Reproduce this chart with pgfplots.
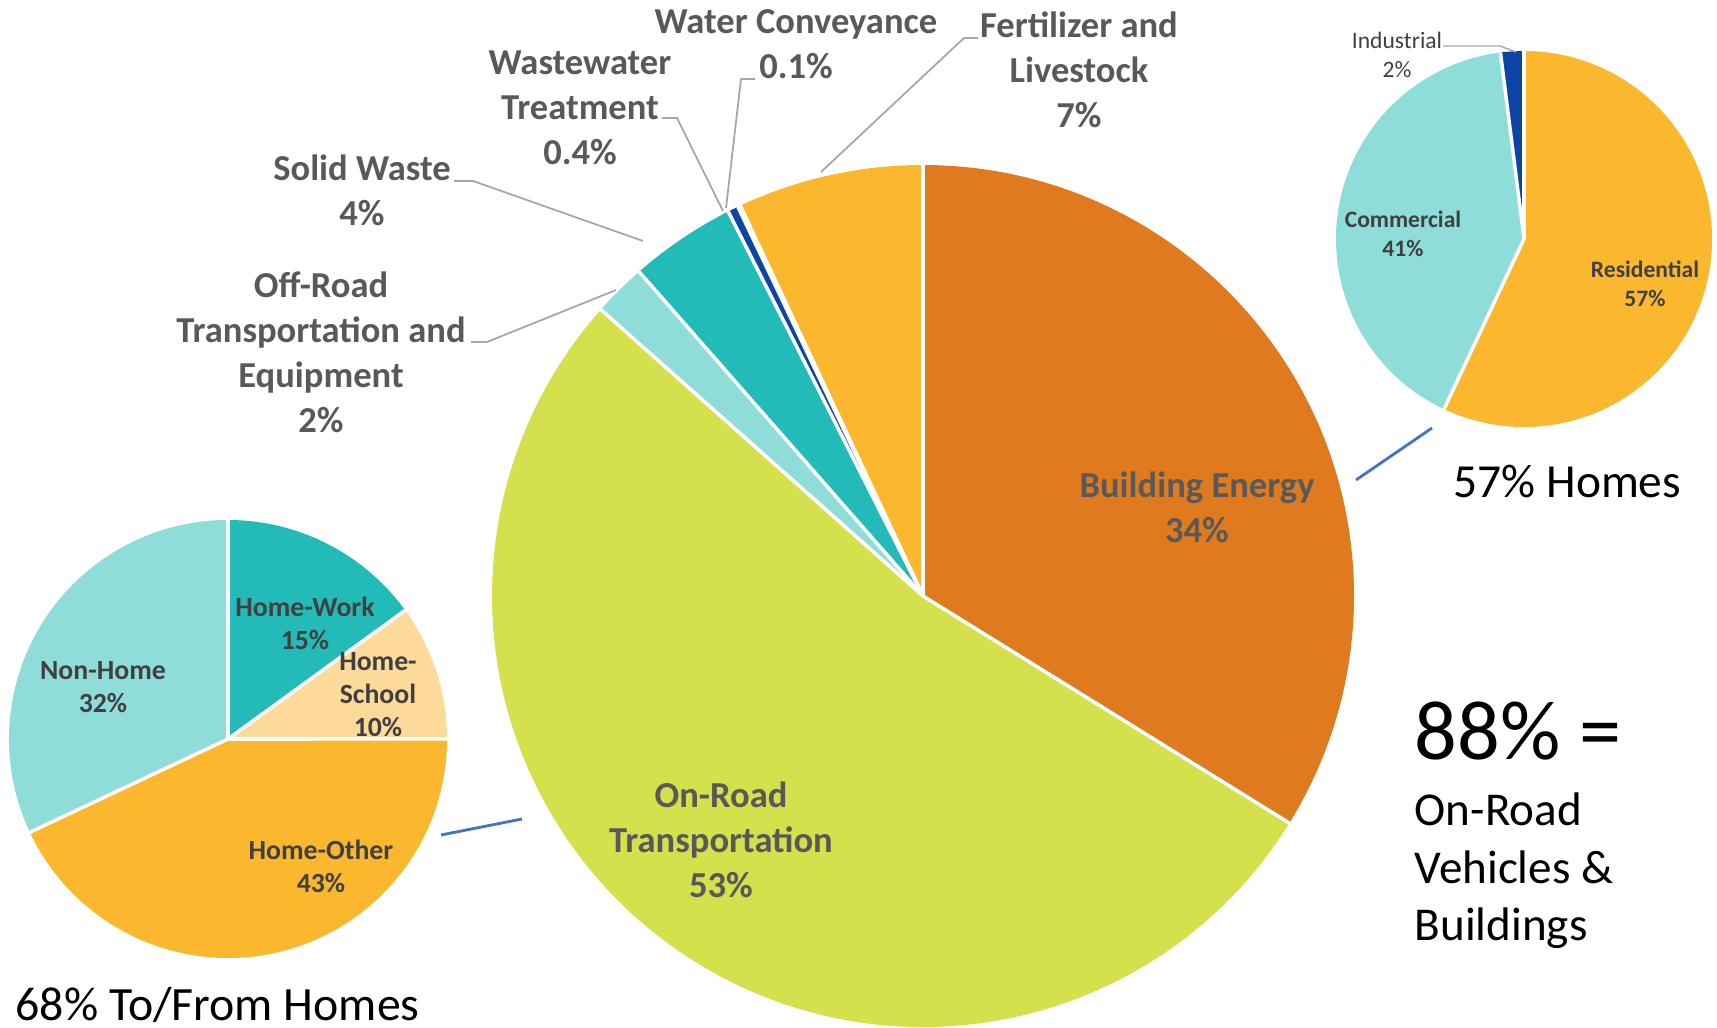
\documentclass[border=0pt]{standalone}
\usepackage{pgfplots}
\pgfplotsset{compat=1.18}
\usepackage{pgfplotstable}
\usepackage{fontspec}
\setmainfont{Carlito}

\definecolor{cOrange}{HTML}{E07A1F}
\definecolor{cLime}{HTML}{D4E04C}
\definecolor{cAqua}{HTML}{8FDDD9}
\definecolor{cTeal}{HTML}{23BBB8}
\definecolor{cNavy}{HTML}{0C45A6}
\definecolor{cWaterC}{HTML}{E8EEF8}
\definecolor{cGold}{HTML}{FBB82F}
\definecolor{cPeach}{HTML}{FCDA9A}
\definecolor{cLabel}{HTML}{595959}
\definecolor{cInner}{HTML}{404040}
\definecolor{cLead}{HTML}{A6A6A6}
\definecolor{cConn}{HTML}{4472C4}

% Main pie: clockwise from 12 o'clock
\pgfplotstableread{
value color
34  cOrange
53  cLime
2   cAqua
4   cTeal
0.4 cNavy
0.1 cWaterC
7   cGold
}\mainpie
% Trips pie (On-Road Transportation)
\pgfplotstableread{
value color
15 cTeal
10 cPeach
43 cGold
32 cAqua
}\trippie
% Building pie
\pgfplotstableread{
value color
57 cGold
41 cAqua
2  cNavy
}\buildpie

% precompute slice angles (outside the axis)
\newcommand\preppie[2]{% table, prefix
  \pgfplotstablegetrowsof{#1}%
  \pgfmathtruncatemacro\N{\pgfplotsretval-1}%
  \expandafter\xdef\csname #2n\endcsname{\N}%
  \gdef\pietot{0}%
  \foreach \i in {0,...,\N}{%
    \pgfplotstablegetelem{\i}{value}\of{#1}%
    \pgfmathsetmacro\tmp{\pietot+\pgfplotsretval}%
    \xdef\pietot{\tmp}}%
  \gdef\pieang{90}%
  \foreach \i in {0,...,\N}{%
    \pgfplotstablegetelem{\i}{value}\of{#1}%
    \pgfmathsetmacro\a{\pieang-\pgfplotsretval/\pietot*360}%
    \pgfplotstablegetelem{\i}{color}\of{#1}%
    \expandafter\xdef\csname #2c\i\endcsname{\pgfplotsretval}%
    \expandafter\xdef\csname #2s\i\endcsname{\pieang}%
    \expandafter\xdef\csname #2e\i\endcsname{\a}%
    \xdef\pieang{\a}}%
}
\preppie{\mainpie}{mp}
\preppie{\trippie}{tp}
\preppie{\buildpie}{bp}

\newcommand\drawpie[4]{% prefix, cx, cy, radius
  \pgfmathtruncatemacro\N{\csname #1n\endcsname}%
  \foreach \i in {0,...,\N}{%
    \edef\col{\csname #1c\i\endcsname}%
    \edef\sa{\csname #1s\i\endcsname}%
    \edef\ea{\csname #1e\i\endcsname}%
    \fill[color=\col] (axis cs:#2,#3) -- ++(\sa:#4) arc[start angle=\sa, end angle=\ea, radius=#4] -- cycle;}%
  \foreach \i in {0,...,\N}{%
    \edef\sa{\csname #1s\i\endcsname}%
    \draw[white, line width=1pt] (axis cs:#2,#3) -- ++(\sa:#4);}%
}

\begin{document}
\begin{tikzpicture}
\begin{axis}[
  name=ax,
  x=1cm, y=1cm, y dir=reverse,
  xmin=0, xmax=17.17, ymin=0, ymax=10.28,
  hide axis, clip=false,
]
\pgfplotsextra{%
  \drawpie{mp}{9.23}{5.96}{4.31cm}
  \drawpie{tp}{2.28}{7.39}{2.19cm}
  \drawpie{bp}{15.24}{2.39}{1.88cm}
}

% leader lines
\draw[cLead, line width=0.5pt] (axis cs:9.78,0.38) -- (axis cs:9.64,0.38) -- (axis cs:8.21,1.72);
\draw[cLead, line width=0.5pt] (axis cs:7.55,0.79) -- (axis cs:7.41,0.79) -- (axis cs:7.26,2.08);
\draw[cLead, line width=0.5pt] (axis cs:6.62,1.18) -- (axis cs:6.77,1.18) -- (axis cs:7.23,2.11);
\draw[cLead, line width=0.5pt] (axis cs:4.54,1.81) -- (axis cs:4.73,1.81) -- (axis cs:6.43,2.41);
\draw[cLead, line width=0.5pt] (axis cs:4.71,3.42) -- (axis cs:4.87,3.42) -- (axis cs:6.16,2.90);
\draw[cLead, line width=0.4pt] (axis cs:14.43,0.46) -- (axis cs:15.00,0.46) -- (axis cs:15.16,0.52);

% connector lines
\draw[cConn, line width=0.8pt] (axis cs:13.56,4.80) -- (axis cs:14.32,4.28);
\draw[cConn, line width=0.8pt] (axis cs:4.41,8.35) -- (axis cs:5.22,8.19);

% main pie labels
\tikzset{mlab/.style={font=\bfseries\fontsize{10.4}{12.8}\selectfont, text=cLabel, align=center, inner sep=0pt}}
\node[mlab] at (axis cs:7.96,0.44) {Water Conveyance\\0.1\%};
\node[mlab] at (axis cs:5.80,1.08) {Wastewater\\Treatment\\0.4\%};
\node[mlab] at (axis cs:10.79,0.70) {Fertilizer and\\Livestock\\7\%};
\node[mlab] at (axis cs:3.62,1.90) {Solid Waste\\4\%};
\node[mlab] at (axis cs:3.21,3.52) {Off-Road\\Transportation and\\Equipment\\2\%};
\node[mlab] at (axis cs:11.97,5.07) {Building Energy\\34\%};
\node[mlab] at (axis cs:7.21,8.40) {On-Road\\Transportation\\53\%};

% trips pie labels
\tikzset{tlab/.style={font=\bfseries\fontsize{7.9}{9.4}\selectfont, text=cInner, align=center, inner sep=0pt}}
\node[tlab] at (axis cs:3.05,6.23) {Home-Work\\15\%};
\node[tlab] at (axis cs:3.78,6.95) {Home-\\School\\10\%};
\node[tlab] at (axis cs:1.03,6.87) {Non-Home\\32\%};
\node[tlab] at (axis cs:3.21,8.66) {Home-Other\\43\%};

% building pie labels
\tikzset{blab/.style={font=\bfseries\fontsize{6.7}{8.1}\selectfont, text=cInner, align=center, inner sep=0pt}}
\node[blab] at (axis cs:14.03,2.34) {Commercial\\41\%};
\node[blab] at (axis cs:16.45,2.84) {Residential\\57\%};
\node[font=\fontsize{6.7}{8.1}\selectfont, text=cInner, align=center, inner sep=0pt] at (axis cs:13.97,0.55) {Industrial\\2\%};

% annotations
\node[font=\fontsize{13.5}{16}\selectfont, anchor=west, inner sep=0pt] at (axis cs:14.53,4.82) {57\% Homes};
\node[font=\fontsize{13.6}{16}\selectfont, anchor=west, inner sep=0pt] at (axis cs:0.15,10.05) {68\% To/From Homes};
\node[font=\fontsize{24}{28}\selectfont, anchor=west, inner sep=0pt] at (axis cs:14.14,7.31) {88\% =};
\node[font=\fontsize{13.4}{16.4}\selectfont, anchor=west, align=left, inner sep=0pt] at (axis cs:14.14,8.71) {On-Road\\Vehicles \&\\Buildings};
\end{axis}
\pgfresetboundingbox
\path[use as bounding box] (ax.south west) rectangle (ax.north east);
\end{tikzpicture}
\end{document}
